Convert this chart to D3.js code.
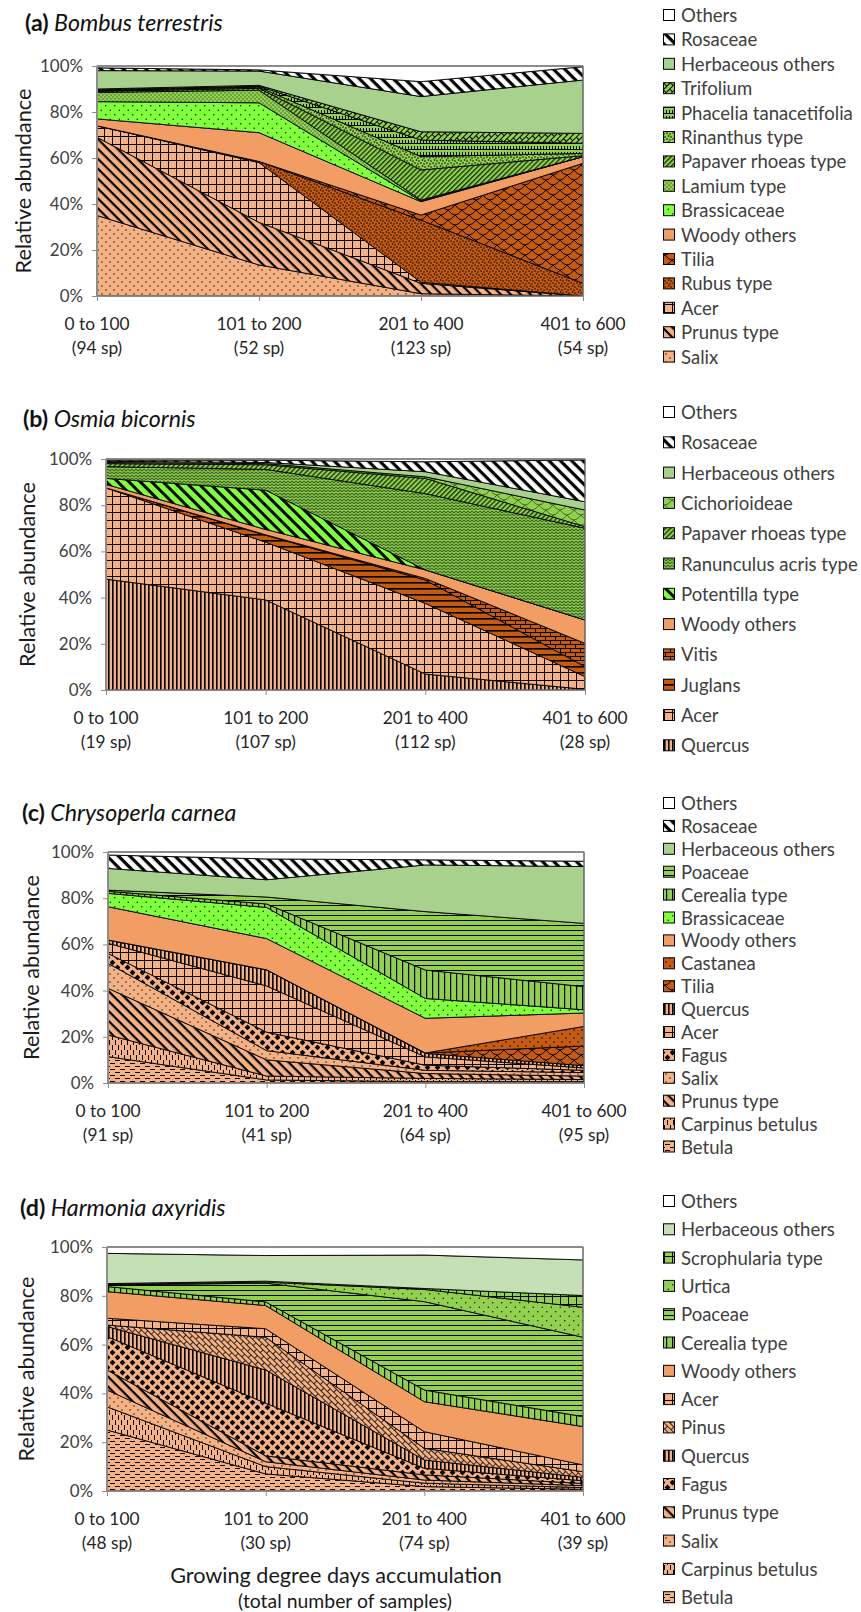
<!DOCTYPE html>
<html>
<head>
<meta charset="utf-8">
<script src="https://cdn.jsdelivr.net/npm/d3@7"></script>
<style>
  html, body { margin: 0; padding: 0; background: #fff; }
  svg { display: block; }
</style>
</head>
<body>
<svg id="fig" width="861" height="1612"></svg>
<script>
// Growing degree day classes shared by all four panels
const gddBins = ["0 to 100", "101 to 200", "201 to 400", "401 to 600"];

// (a) Bombus terrestris — pollen taxa, stacking order bottom → top
const samplesBombus = [94, 52, 123, 54];
const taxaBombus = ["Salix", "Prunus type", "Acer", "Rubus type", "Tilia", "Woody others",
  "Brassicaceae", "Lamium type", "Papaver rhoeas type", "Rinanthus type",
  "Phacelia tanacetifolia", "Trifolium", "Herbaceous others", "Rosaceae", "Others"];
const sharesBombus = [
  [35, 13.5, 1, 0],
  [34, 18.5, 4.5, 0],
  [5, 26, 0.5, 0],
  [0, 0.5, 27, 5.5],
  [0, 0, 2.2, 52.2],
  [3, 12.5, 5.8, 2.9],
  [7.5, 13, 0.3, 0],
  [4, 5.5, 0.4, 0],
  [0.5, 0.8, 13.1, 0.4],
  [0.3, 0.5, 5.8, 1],
  [0.3, 0.4, 7.2, 4.4],
  [0.4, 0.4, 3.6, 4.3],
  [8, 6.2, 15.3, 23.2],
  [1.2, 0.5, 6.5, 5.8],
  [0.8, 1.7, 6.8, 0.3]
];

// (b) Osmia bicornis
const samplesOsmia = [19, 107, 112, 28];
const taxaOsmia = ["Quercus", "Acer", "Juglans", "Vitis", "Woody others", "Potentilla type",
  "Ranunculus acris type", "Papaver rhoeas type", "Cichorioideae", "Herbaceous others",
  "Rosaceae", "Others"];
const sharesOsmia = [
  [48, 39, 6.9, 0.3],
  [39.5, 25, 30.6, 5.5],
  [0, 3, 10.1, 4.3],
  [0, 0.2, 0.7, 10.1],
  [1.5, 2.3, 3.7, 10.1],
  [2.6, 17, 0, 0],
  [5.1, 9, 33, 39.7],
  [1.3, 2, 6.6, 0.7],
  [0.5, 0.5, 0.7, 7.2],
  [0.5, 0.5, 2.2, 3.6],
  [0.5, 1, 4.3, 18.1],
  [0.5, 0.5, 1.2, 0.4]
];

// (c) Chrysoperla carnea
const samplesChrysoperla = [91, 41, 64, 95];
const taxaChrysoperla = ["Betula", "Carpinus betulus", "Prunus type", "Salix", "Fagus", "Acer",
  "Quercus", "Tilia", "Castanea", "Woody others", "Brassicaceae", "Cerealia type",
  "Poaceae", "Herbaceous others", "Rosaceae", "Others"];
const sharesChrysoperla = [
  [11.4, 1.3, 0.6, 0.6],
  [9.4, 1.7, 1.4, 0.9],
  [20.2, 7, 2.1, 1.5],
  [10.8, 4, 1.4, 1.5],
  [4.3, 8, 2.2, 1],
  [4.4, 20, 3.6, 1],
  [1.4, 7, 1.5, 1],
  [0, 0, 0.2, 8.5],
  [0, 0, 0, 8.5],
  [14.4, 13.5, 15, 5.8],
  [5.8, 13.5, 8.6, 1.4],
  [0.9, 1.5, 12.3, 10],
  [0.5, 3, 25.3, 27.4],
  [9.4, 7.5, 20.2, 24.6],
  [5.8, 9, 2.2, 2.3],
  [1.3, 3, 3.4, 4]
];

// (d) Harmonia axyridis
const samplesHarmonia = [48, 30, 74, 39];
const taxaHarmonia = ["Betula", "Carpinus betulus", "Salix", "Prunus type", "Fagus", "Quercus",
  "Pinus", "Acer", "Woody others", "Cerealia type", "Poaceae", "Urtica",
  "Scrophularia type", "Herbaceous others", "Others"];
const sharesHarmonia = [
  [25, 7, 1.8, 0.7],
  [9.5, 3, 1.4, 0.7],
  [6.9, 2, 1.3, 0.8],
  [8.2, 2.4, 2.1, 0.9],
  [13.7, 21.6, 2.7, 1.1],
  [4.1, 13.6, 3.4, 1.4],
  [0.6, 13.4, 4.8, 2.3],
  [2.8, 3.5, 6.8, 2.8],
  [10.9, 9.5, 12.3, 15.7],
  [2.1, 1.5, 4.8, 4.1],
  [0.6, 7.7, 36.2, 32.5],
  [0.2, 0.4, 5, 12.3],
  [0.4, 0.4, 0.4, 4.8],
  [12.4, 10.5, 13.7, 14.6],
  [2.6, 3.5, 3.3, 5.3]
];

const yTicks = [0, 20, 40, 60, 80, 100];

// ---------- fills ----------
const COL = {
  peach: "#F4B183", woody: "#F29D63", dark: "#C55A11", lime: "#80FF3C",
  green: "#92D050", herb: "#A9D18E", herbPale: "#C5E0B4", white: "#FFFFFF", darkGreen: "#3E6B21"
};

const taxonStyle = {
  "Salix": { kind: "dots", bg: COL.peach, s: 8, r: 0.7 },
  "Prunus type": { kind: "stripes", bg: COL.peach, s: 7, lw: 2.2, rot: 45 },
  "Acer": { kind: "grid", bg: COL.peach, s: 8, lw: 1 },
  "Rubus type": { kind: "speckle", bg: COL.dark },
  "Tilia": { kind: "scales", bg: COL.dark },
  "Woody others": { kind: "solid", bg: COL.woody },
  "Brassicaceae": { kind: "dots", bg: COL.lime, s: 9, r: 0.7 },
  "Lamium type": { kind: "dots", bg: COL.green, s: 4, r: 0.8, fg: COL.darkGreen },
  "Papaver rhoeas type": { kind: "stripes", bg: COL.green, s: 3.5, lw: 1.4, rot: -45, fg: "#1B3A0C" },
  "Rinanthus type": { kind: "speckle", bg: COL.green },
  "Phacelia tanacetifolia": { kind: "notch", bg: COL.green },
  "Trifolium": { kind: "brick", bg: COL.green, rot: -45, lw: 1 },
  "Herbaceous others": { kind: "solid", bg: COL.herb },
  "Rosaceae": { kind: "stripes", bg: COL.white, s: 8, lw: 3.2, rot: 45 },
  "Others": { kind: "solid", bg: COL.white },
  "Quercus": { kind: "vlines", bg: COL.peach, s: 4, lw: 1.6 },
  "Juglans": { kind: "hlines", bg: COL.dark, s: 6, lw: 1.6 },
  "Vitis": { kind: "brick", bg: COL.dark, lw: 1 },
  "Potentilla type": { kind: "stripes", bg: COL.lime, s: 8, lw: 3, rot: 45 },
  "Ranunculus acris type": { kind: "zigzag", bg: COL.green, fg: COL.darkGreen },
  "Cichorioideae": { kind: "scales", bg: COL.green, fg: COL.darkGreen },
  "Betula": { kind: "hdash", bg: COL.peach },
  "Carpinus betulus": { kind: "vdash", bg: COL.peach },
  "Fagus": { kind: "diamonds", bg: COL.peach },
  "Castanea": { kind: "dots", bg: COL.dark, s: 8, r: 0.8 },
  "Cerealia type": { kind: "vlines", bg: COL.green, s: 6, lw: 1.2 },
  "Poaceae": { kind: "hlines", bg: COL.green, s: 5, lw: 1 },
  "Pinus": { kind: "brick", bg: COL.peach, rot: 45, lw: 0.8 },
  "Urtica": { kind: "dots", bg: COL.green, s: 9, r: 0.7 },
  "Scrophularia type": { kind: "grid", bg: COL.green, s: 8, lw: 1 }
};

function makeFill(defs, id, st) {
  if (st.kind === "solid") return st.bg;
  const fg = st.fg || "#000";
  let w = 8, h = 8, draw;
  switch (st.kind) {
    case "dots":
      w = h = st.s;
      draw = p => {
        [[st.s / 4, st.s / 4], [3 * st.s / 4, 3 * st.s / 4]].forEach(([cx, cy]) =>
          p.append("circle").attr("cx", cx).attr("cy", cy).attr("r", st.r).attr("fill", fg));
      };
      break;
    case "speckle":
      w = h = 6;
      draw = p => {
        [[1, 1], [4, 2], [2.5, 4], [5, 5]].forEach(([cx, cy]) =>
          p.append("circle").attr("cx", cx).attr("cy", cy).attr("r", 0.8).attr("fill", fg));
      };
      break;
    case "stripes":
      w = h = st.s;
      draw = p => p.append("rect").attr("x", 0).attr("y", 0).attr("width", w).attr("height", st.lw).attr("fill", fg);
      break;
    case "vlines":
      w = h = st.s;
      draw = p => p.append("rect").attr("x", 0).attr("y", 0).attr("width", st.lw).attr("height", h).attr("fill", fg);
      break;
    case "hlines":
      w = h = st.s;
      draw = p => p.append("rect").attr("x", 0).attr("y", 0).attr("width", w).attr("height", st.lw).attr("fill", fg);
      break;
    case "grid":
      w = h = st.s;
      draw = p => p.append("path").attr("d", `M0,0.5H${w}M0.5,0V${h}`)
        .attr("stroke", fg).attr("stroke-width", st.lw).attr("fill", "none");
      break;
    case "hdash":
      w = 10; h = 6;
      draw = p => p.append("path").attr("d", "M0,1.5H5M5,4.5H10")
        .attr("stroke", fg).attr("stroke-width", 1).attr("fill", "none");
      break;
    case "vdash":
      w = 6; h = 10;
      draw = p => p.append("path").attr("d", "M1.5,0V5M4.5,5V10")
        .attr("stroke", fg).attr("stroke-width", 1).attr("fill", "none");
      break;
    case "diamonds":
      w = 10; h = 10;
      draw = p => {
        [[2.5, 2.5], [7.5, 7.5]].forEach(([cx, cy]) =>
          p.append("path").attr("d", `M${cx},${cy - 2.9}L${cx + 2.9},${cy}L${cx},${cy + 2.9}L${cx - 2.9},${cy}Z`).attr("fill", fg));
      };
      break;
    case "scales":
      w = 14; h = 10;
      draw = p => p.append("path")
        .attr("d", "M0,0Q7,10 14,0M-7,5Q0,15 7,5M7,5Q14,15 21,5")
        .attr("stroke", fg).attr("stroke-width", 1).attr("fill", "none");
      break;
    case "brick":
      w = 10; h = 8;
      draw = p => p.append("path")
        .attr("d", "M0,0.5H10M0,4.5H10M0.5,0.5V4.5M5.5,4.5V8.5")
        .attr("stroke", fg).attr("stroke-width", st.lw || 1).attr("fill", "none");
      break;
    case "zigzag":
      w = 8; h = 6;
      draw = p => p.append("path")
        .attr("d", "M0,1L2,3L4,1L6,3L8,1M0,4L2,6L4,4L6,6L8,4")
        .attr("stroke", fg).attr("stroke-width", 1.1).attr("fill", "none");
      break;
    case "notch":
      w = 6; h = 6;
      draw = p => p.append("path")
        .attr("d", "M0,5.5H6M0.5,2V5.5M3.5,2V5.5")
        .attr("stroke", fg).attr("stroke-width", 1).attr("fill", "none");
      break;
  }
  const p = defs.append("pattern").attr("id", id)
    .attr("patternUnits", "userSpaceOnUse").attr("width", w).attr("height", h);
  if (st.rot) p.attr("patternTransform", `rotate(${st.rot})`);
  p.append("rect").attr("width", w).attr("height", h).attr("fill", st.bg);
  draw(p);
  return `url(#${id})`;
}

// ---------- panels ----------
const panels = [
  { key: "a", species: "Bombus terrestris", taxa: taxaBombus, shares: sharesBombus, samples: samplesBombus,
    box: { l: 97, r: 583, t: 66, b: 296 }, title: [25, 22], ylabX: 23, legend: { y: 15, step: 24.4 } },
  { key: "b", species: "Osmia bicornis", taxa: taxaOsmia, shares: sharesOsmia, samples: samplesOsmia,
    box: { l: 106, r: 585, t: 459, b: 690 }, title: [23, 418], ylabX: 27, legend: { y: 412, step: 30.3 } },
  { key: "c", species: "Chrysoperla carnea", taxa: taxaChrysoperla, shares: sharesChrysoperla, samples: samplesChrysoperla,
    box: { l: 108, r: 584, t: 852, b: 1083 }, title: [22, 812], ylabX: 31, legend: { y: 803, step: 22.9 } },
  { key: "d", species: "Harmonia axyridis", taxa: taxaHarmonia, shares: sharesHarmonia, samples: samplesHarmonia,
    box: { l: 107, r: 583, t: 1247, b: 1491 }, title: [20, 1207], ylabX: 26, legend: { y: 1201, step: 28.3 },
    overrides: { "Herbaceous others": { kind: "solid", bg: COL.herbPale } } }
];

const FONT = "Lato, 'Open Sans', sans-serif";
const svg = d3.select("#fig").style("font-family", FONT);
const defs = svg.append("defs");

// font size that makes a sample string span a given width
function sizeFor(parts, width) {
  const t = svg.append("text").attr("font-size", 100).attr("font-family", FONT);
  parts.forEach(([str, weight, style]) =>
    t.append("tspan").attr("font-weight", weight || "normal").attr("font-style", style || "normal").text(str));
  const w = t.node().getComputedTextLength();
  t.remove();
  return 100 * width / w;
}
const FS = {
  xTick: sizeFor([["0 to 100"]], 65),
  yTick: sizeFor([["100%"]], 43),
  yTitle: sizeFor([["Relative abundance"]], 185),
  legend: sizeFor([["Herbaceous others"]], 154),
  title: sizeFor([["(a)", "bold"], [" Bombus terrestris", "normal", "italic"]], 198),
  xTitle: sizeFor([["Growing degree days accumulation"]], 332),
  xSub: sizeFor([["(total number of samples)"]], 214)
};

panels.forEach(pn => {
  const { l, r, t, b } = pn.box;
  const g = svg.append("g").attr("class", `panel-${pn.key}`);

  const fills = {};
  pn.taxa.forEach((name, i) => {
    const st = (pn.overrides && pn.overrides[name]) || taxonStyle[name];
    fills[name] = makeFill(defs, `fill-${pn.key}-${i}`, st);
  });

  const x = d3.scalePoint().domain(gddBins).range([l, r]);
  const y = d3.scaleLinear().domain([0, 100]).range([b, t]);

  const rows = gddBins.map((bin, j) => {
    const row = { bin };
    pn.taxa.forEach((name, i) => { row[name] = pn.shares[i][j]; });
    return row;
  });
  const series = d3.stack().keys(pn.taxa)(rows);

  const area = d3.area()
    .x(d => x(d.data.bin))
    .y0(d => y(d[0]))
    .y1(d => y(d[1]));

  g.append("g").selectAll("path").data(series).join("path")
    .attr("d", area)
    .attr("fill", s => fills[s.key])
    .attr("stroke", "#000")
    .attr("stroke-width", 0.9)
    .attr("stroke-linejoin", "round");

  // plot-area frame
  g.append("rect").attr("x", l).attr("y", t).attr("width", r - l).attr("height", b - t)
    .attr("fill", "none").attr("stroke", "#8C8C8C").attr("stroke-width", 1);

  // y axis
  const ya = g.append("g").attr("transform", `translate(${l},0)`)
    .call(d3.axisLeft(y).tickValues(yTicks).tickFormat(d => d + "%").tickSize(5).tickPadding(9));
  ya.select(".domain").attr("stroke", "#8C8C8C");
  ya.selectAll(".tick line").attr("stroke", "#8C8C8C");
  ya.selectAll(".tick text").attr("font-size", FS.yTick).attr("fill", "#404040").attr("font-family", FONT);

  // x axis
  const xa = g.append("g").attr("transform", `translate(0,${b})`)
    .call(d3.axisBottom(x).tickSize(5).tickFormat(""));
  xa.select(".domain").attr("stroke", "#8C8C8C");
  xa.selectAll(".tick line").attr("stroke", "#8C8C8C");

  const lab = g.append("g").attr("font-size", FS.xTick).attr("fill", "#262626").attr("text-anchor", "middle");
  gddBins.forEach((bin, j) => {
    lab.append("text").attr("x", x(bin)).attr("y", b + 27).attr("dominant-baseline", "central").text(bin);
    lab.append("text").attr("x", x(bin)).attr("y", b + 51).attr("dominant-baseline", "central")
      .text(`(${pn.samples[j]} sp)`);
  });

  // y axis title
  g.append("text")
    .attr("transform", `translate(${pn.ylabX},${(t + b) / 2}) rotate(-90)`)
    .attr("text-anchor", "middle").attr("dominant-baseline", "central")
    .attr("font-size", FS.yTitle).attr("fill", "#1a1a1a")
    .text("Relative abundance");

  // panel title
  const ttl = g.append("text").attr("x", pn.title[0]).attr("y", pn.title[1])
    .attr("dominant-baseline", "central").attr("font-size", FS.title).attr("fill", "#111");
  ttl.append("tspan").attr("font-weight", "bold").text(`(${pn.key})`);
  ttl.append("tspan").attr("font-style", "italic").text(" " + pn.species);

  // legend: top of the stack listed first
  const leg = g.append("g");
  const items = pn.taxa.slice().reverse();
  items.forEach((name, k) => {
    const cy = pn.legend.y + k * pn.legend.step;
    leg.append("rect").attr("x", 663.5).attr("y", cy - 5.5).attr("width", 11).attr("height", 11)
      .attr("fill", fills[name]).attr("stroke", "#000").attr("stroke-width", 1);
    leg.append("text").attr("x", 681).attr("y", cy).attr("dominant-baseline", "central")
      .attr("font-size", FS.legend).attr("fill", "#404040").text(name);
  });
});

// shared x axis title
svg.append("text").attr("x", 336).attr("y", 1575).attr("text-anchor", "middle")
  .attr("dominant-baseline", "central").attr("font-size", FS.xTitle).attr("fill", "#1a1a1a")
  .text("Growing degree days accumulation");
svg.append("text").attr("x", 345).attr("y", 1600).attr("text-anchor", "middle")
  .attr("dominant-baseline", "central").attr("font-size", FS.xSub).attr("fill", "#1a1a1a")
  .text("(total number of samples)");
</script>
</body>
</html>
